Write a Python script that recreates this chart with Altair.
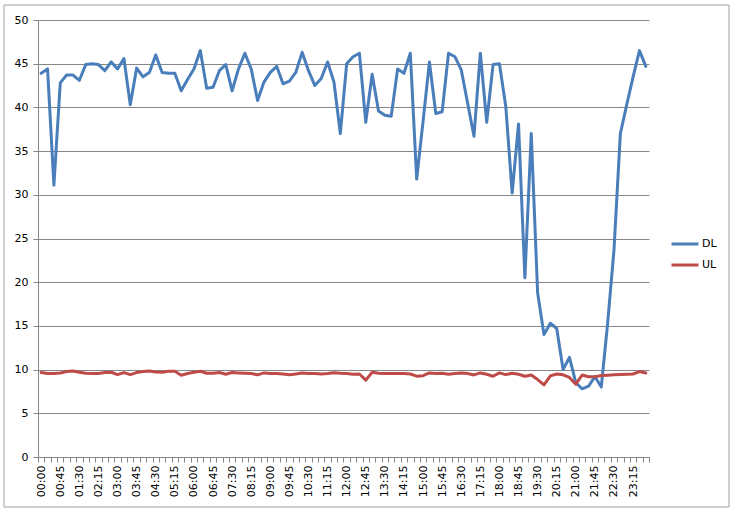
import altair as alt
import pandas as pd

times = [f"{h:02d}:{m:02d}" for h in range(24) for m in (0, 15, 30, 45)]
shown_labels = times[::3]

dl = [43.9, 44.4, 31.1, 42.8, 43.7, 43.7, 43.1, 44.9, 45.0, 44.9,
      44.2, 45.2, 44.4, 45.6, 40.3, 44.5, 43.5, 44.0, 46.0, 44.0,
      43.9, 43.9, 41.9, 43.2, 44.4, 46.5, 42.2, 42.3, 44.2, 44.9,
      41.9, 44.4, 46.2, 44.4, 40.8, 42.9, 44.0, 44.7, 42.7, 43.0,
      44.0, 46.3, 44.2, 42.5, 43.3, 45.2, 42.9, 37.0, 45.0, 45.8,
      46.2, 38.3, 43.8, 39.6, 39.1, 39.0, 44.4, 43.9, 46.2, 31.8,
      38.4, 45.2, 39.3, 39.5, 46.2, 45.8, 44.3, 40.5, 36.7, 46.2,
      38.3, 44.9, 45.0, 40.1, 30.2, 38.1, 20.5, 37.0, 18.8, 14.0,
      15.3, 14.7, 10.0, 11.4, 8.5, 7.8, 8.1, 9.2, 8.0, 15.3,
      23.7, 37.0, 40.3, 43.5, 46.5, 44.7]

ul = [9.66, 9.55, 9.55, 9.62, 9.77, 9.85, 9.70, 9.58, 9.55, 9.55,
      9.66, 9.70, 9.43, 9.66, 9.43, 9.66, 9.77, 9.85, 9.73, 9.70,
      9.81, 9.81, 9.36, 9.55, 9.70, 9.81, 9.58, 9.58, 9.66, 9.47,
      9.66, 9.62, 9.58, 9.55, 9.40, 9.62, 9.55, 9.55, 9.50, 9.40,
      9.50, 9.60, 9.55, 9.55, 9.50, 9.55, 9.65, 9.58, 9.55, 9.47,
      9.50, 8.80, 9.70, 9.58, 9.55, 9.55, 9.55, 9.55, 9.50, 9.25,
      9.30, 9.62, 9.55, 9.58, 9.47, 9.55, 9.62, 9.55, 9.39, 9.62,
      9.47, 9.24, 9.62, 9.43, 9.58, 9.47, 9.24, 9.39, 8.86, 8.25,
      9.28, 9.50, 9.40, 9.10, 8.33, 9.38, 9.18, 9.17, 9.32, 9.36,
      9.40, 9.43, 9.47, 9.50, 9.77, 9.62]

series_names = ["DL", "UL"]
series_colors = ["#4A7EBB", "#BE4B48"]

df = pd.DataFrame({
    "time": times * 2,
    "value": dl + ul,
    "series": ["DL"] * len(times) + ["UL"] * len(times),
})

label_list = "[" + ",".join(f"'{t}'" for t in shown_labels) + "]"

font = "DejaVu Sans"
gray = "#868686"

lines = alt.Chart(df).mark_line(strokeWidth=3, strokeJoin="round", strokeCap="round").encode(
    x=alt.X(
        "time:O",
        sort=times,
        scale=alt.Scale(type="band", paddingInner=0, paddingOuter=0),
        axis=alt.Axis(
            title=None,
            tickBand="extent",
            labelAngle=-90,
            labelExpr=f"indexof({label_list}, datum.value) >= 0 ? datum.value : ''",
            labelOverlap=False,
            labelFont=font,
            labelFontSize=11,
            labelColor="#000000",
            labelPadding=3,
            tickSize=5,
            tickColor=gray,
            domainColor=gray,
            grid=False,
        ),
    ),
    y=alt.Y(
        "value:Q",
        scale=alt.Scale(domain=[0, 50], nice=False, zero=True),
        axis=alt.Axis(
            title=None,
            values=list(range(0, 51, 5)),
            grid=True,
            gridColor=gray,
            gridWidth=1,
            tickSize=5,
            tickColor=gray,
            domainColor=gray,
            labelFont=font,
            labelFontSize=11,
            labelColor="#000000",
            labelPadding=5,
        ),
    ),
    color=alt.Color(
        "series:N",
        scale=alt.Scale(domain=series_names, range=series_colors),
        legend=alt.Legend(
            title=None,
            orient="none",
            legendX=632,
            legendY=209,
            symbolType="stroke",
            symbolSize=729,
            symbolStrokeWidth=3,
            rowPadding=-2,
            labelOffset=2,
            labelFont=font,
            labelFontSize=11,
            labelColor="#000000",
            padding=0,
        ),
    ),
)

frame = alt.Chart(pd.DataFrame({"k": [0]})).mark_rect(
    fill="transparent", stroke="#a0a0a0", strokeWidth=1
).encode(
    x=alt.value(-34), x2=alt.value(691), y=alt.value(-15), y2=alt.value(487)
)

chart = alt.layer(frame, lines).properties(
    width=611,
    height=437,
    padding={"left": 38, "top": 20, "right": 81, "bottom": 52},
    autosize=alt.AutoSizeParams(type="none"),
    background="white",
).configure_view(strokeWidth=0)

chart.save("out.html", embed_options={"renderer": "svg", "actions": False})
